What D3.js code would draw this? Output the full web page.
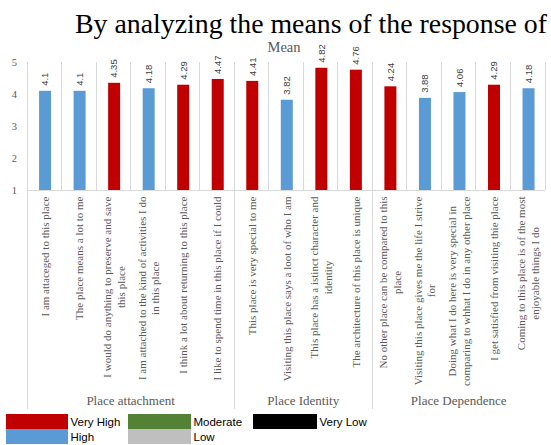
<!DOCTYPE html>
<html>
<head>
<meta charset="utf-8">
<script src="https://cdn.jsdelivr.net/npm/d3@7"></script>
<style>
  html, body { margin: 0; padding: 0; background: #fff; }
  svg { display: block; }
  .serif { font-family: "Liberation Serif", "Times New Roman", Times, "DejaVu Serif", serif; }
  .sans { font-family: "Liberation Sans", Arial, Helvetica, sans-serif; }
</style>
</head>
<body>
<svg id="chart" width="551" height="445"></svg>
<script>
// ---- data ----
const titleText = "By analyzing the means of the response of";
const subtitleText = "Mean";
const categoryLines = [
  ["I am attaceged to this place"],
  ["The place means a lot to me"],
  ["I would do anything to preserve and save", "this place"],
  ["I am attached to the kind of activities I do", "in this place"],
  ["I think a lot about returning to this place"],
  ["I like to spend time in this place if I could"],
  ["This place is very special to me"],
  ["Visiting this place says a loot of who I am"],
  ["This place has a istinct character and", "identity"],
  ["The architecture of this place is unique"],
  ["No other place can be compared to this", "place"],
  ["Visiting this place gives me the life I strive", "for"],
  ["Doing what I do here is very special in", "comparing to whhat I do in any other place"],
  ["I get satisfied from visiting thie place"],
  ["Coming to this place is of the most", "enjoyable things I do"]
];
const values = [4.1, 4.1, 4.35, 4.18, 4.29, 4.47, 4.41, 3.82, 4.82, 4.76, 4.24, 3.88, 4.06, 4.29, 4.18];
const valueLabels = ["4.1", "4.1", "4.35", "4.18", "4.29", "4.47", "4.41", "3.82", "4.82", "4.76", "4.24", "3.88", "4.06", "4.29", "4.18"];
const levels = ["High", "High", "Very High", "High", "Very High", "Very High", "Very High", "High",
                "Very High", "Very High", "Very High", "High", "High", "Very High", "High"];
const groupNames = ["Place attachment", "Place Identity", "Place Dependence"];
const groupSizes = [6, 4, 5];
const yTicks = [1, 2, 3, 4, 5];
const legendItems = ["Very High", "High", "Moderate", "Low", "Very Low"];
const legendColors = ["#c00000", "#5b9bd5", "#548235", "#bfbfbf", "#000000"];

// ---- layout ----
(function () {
const svg = d3.select("#chart");
const pLeft = 27, pRight = 545, pTop = 62, pBottom = 190, groupBottom = 409;
const gridColor = "#d9d9d9";

const color = d3.scaleOrdinal().domain(legendItems).range(legendColors);
const x = d3.scaleBand().domain(d3.range(values.length)).range([pLeft, pRight]).padding(0);
const y = d3.scaleLinear().domain([1, 5]).range([pBottom, pTop]);
const barW = 12;

// title
svg.append("text").attr("class", "serif")
  .attr("x", 75).attr("y", 32.5)
  .attr("font-size", 27).attr("fill", "#000")
  .attr("textLength", 472).attr("lengthAdjust", "spacingAndGlyphs")
  .text(titleText);

svg.append("text").attr("class", "serif")
  .attr("x", 284).attr("y", 51.5)
  .attr("text-anchor", "middle")
  .attr("font-size", 14.5).attr("fill", "#595959")
  .text(subtitleText);

// vertical category gridlines
const boundaries = d3.range(values.length + 1).map(i => i < values.length ? x(i) : x(values.length - 1) + x.step());
svg.append("g").selectAll("line").data(boundaries).join("line")
  .attr("x1", d => d).attr("x2", d => d)
  .attr("y1", pTop).attr("y2", pBottom)
  .attr("stroke", gridColor).attr("stroke-width", 1).attr("shape-rendering", "crispEdges");

// group separators extending downward
const groupStarts = [0];
groupSizes.forEach((s, i) => groupStarts.push(groupStarts[i] + s));
const sepIdx = groupStarts.slice(0, groupSizes.length);
svg.append("g").selectAll("line").data(sepIdx).join("line")
  .attr("x1", d => x(d)).attr("x2", d => x(d))
  .attr("y1", pBottom).attr("y2", groupBottom)
  .attr("stroke", gridColor).attr("stroke-width", 1).attr("shape-rendering", "crispEdges");

// x axis line
svg.append("line")
  .attr("x1", pLeft).attr("x2", pRight).attr("y1", pBottom).attr("y2", pBottom)
  .attr("stroke", gridColor).attr("stroke-width", 1).attr("shape-rendering", "crispEdges");

// y axis
const yAxis = svg.append("g")
  .attr("transform", `translate(${pLeft},0)`)
  .call(d3.axisLeft(y).tickValues(yTicks).tickSize(0).tickPadding(10).tickFormat(d3.format("d")));
yAxis.select(".domain").remove();
yAxis.attr("font-family", null);
yAxis.selectAll("text").attr("class", "serif")
  .attr("font-size", 10.5).attr("fill", "#595959");

// bars
svg.append("g").selectAll("rect").data(values).join("rect")
  .attr("x", (d, i) => x(i) + (x.step() - barW) / 2 + 0.8)
  .attr("y", d => y(d))
  .attr("width", barW)
  .attr("height", d => y(1) - y(d))
  .attr("fill", (d, i) => color(levels[i]));

// value labels (rotated)
svg.append("g").selectAll("text").data(values).join("text").attr("class", "sans")
  .attr("transform", (d, i) => `translate(${x(i) + x.step() / 2 + 0.8},${y(d) - 5}) rotate(-90)`)
  .attr("dy", "0.35em")
  .attr("font-size", 9.5).attr("fill", "#404040")
  .text((d, i) => valueLabels[i]);

// category labels (rotated, top-aligned, centered block)
const catFont = 11, lineH = 13.5, labelTop = 196.5;
const catG = svg.append("g");
categoryLines.forEach((lines, i) => {
  const g = catG.append("g")
    .attr("transform", `translate(${x(i) + x.step() / 2 + 1},${labelTop}) rotate(-90)`);
  const texts = g.selectAll("text").data(lines).join("text").attr("class", "serif")
    .attr("font-size", catFont).attr("fill", "#595959")
    .attr("text-anchor", "middle")
    .text(d => d);
  let maxLen = 0;
  texts.each(function () { maxLen = Math.max(maxLen, this.getComputedTextLength()); });
  const n = lines.length;
  texts.attr("x", -maxLen / 2)
    .attr("y", (d, k) => (k - (n - 1) / 2) * lineH + 3.5);
});

// group labels
svg.append("g").selectAll("text").data(groupNames).join("text").attr("class", "serif")
  .attr("x", (d, i) => {
    const a = x(groupStarts[i]);
    const b = x(groupStarts[i + 1] - 1) + x.step();
    return (a + b) / 2;
  })
  .attr("y", 405)
  .attr("text-anchor", "middle")
  .attr("font-size", 13).attr("fill", "#595959")
  .text(d => d);

// legend
const legendPos = [
  { x: 6, y: 414 }, { x: 6, y: 429 },
  { x: 128, y: 414 }, { x: 128, y: 429 },
  { x: 253, y: 414 }
];
const boxW = i => i === 4 ? 64 : (i >= 2 ? 63 : 62);
const lg = svg.append("g").selectAll("g").data(legendItems).join("g")
  .attr("transform", (d, i) => `translate(${legendPos[i].x},${legendPos[i].y})`);
lg.append("rect")
  .attr("width", (d, i) => boxW(i))
  .attr("height", 15)
  .attr("fill", d => color(d));
lg.append("text").attr("class", "sans")
  .attr("x", (d, i) => boxW(i) + 2.5)
  .attr("y", 11.8)
  .attr("font-size", 11.5).attr("fill", "#000")
  .text(d => d);
})();
</script>
</body>
</html>
